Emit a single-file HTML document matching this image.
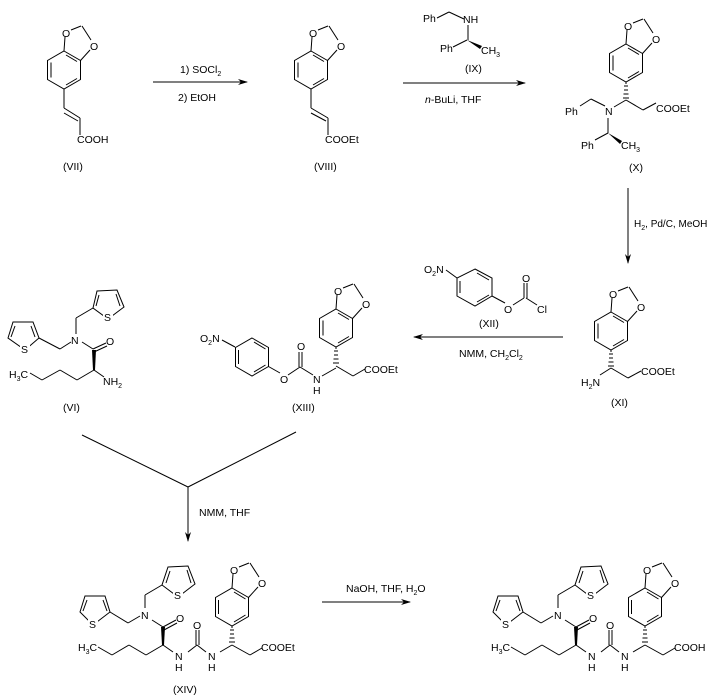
<!DOCTYPE html>
<html><head><meta charset="utf-8"><style>
html,body{margin:0;padding:0;background:#fff;}
svg{display:block;font-family:"Liberation Sans",sans-serif;font-size:10.5px;}
line,polyline,polygon.r{stroke:#000;stroke-width:1;fill:none;}
</style></head><body>
<svg width="711" height="697" viewBox="0 0 711 697" xmlns="http://www.w3.org/2000/svg">
<defs>
<marker id="ah" markerWidth="10" markerHeight="6" refX="9" refY="3" orient="auto" markerUnits="userSpaceOnUse"><path d="M0,0 L10,3 L0,6 L3,3 z" fill="#000"/></marker>
</defs>

<g transform="translate(64,70)">
<polygon class="r" points="0,-19 16.5,-9.5 16.5,9.5 0,19 -16.5,9.5 -16.5,-9.5"/>
<line x1="-13" y1="-7.5" x2="-13" y2="7.5"/><line x1="2" y1="15" x2="13" y2="8.5"/><line x1="2" y1="-15" x2="13" y2="-8.5"/>
<line x1="0" y1="-19" x2="1" y2="-33"/><line x1="16.5" y1="-9.5" x2="26" y2="-20"/>
<line x1="7" y1="-40" x2="17" y2="-44"/><line x1="18" y1="-44" x2="27" y2="-30"/>
<text x="-2" y="-33">O</text><text x="26" y="-20">O</text>
</g>
<g transform="translate(311,70)">
<polygon class="r" points="0,-19 16.5,-9.5 16.5,9.5 0,19 -16.5,9.5 -16.5,-9.5"/>
<line x1="-13" y1="-7.5" x2="-13" y2="7.5"/><line x1="2" y1="15" x2="13" y2="8.5"/><line x1="2" y1="-15" x2="13" y2="-8.5"/>
<line x1="0" y1="-19" x2="1" y2="-33"/><line x1="16.5" y1="-9.5" x2="26" y2="-20"/>
<line x1="7" y1="-40" x2="17" y2="-44"/><line x1="18" y1="-44" x2="27" y2="-30"/>
<text x="-2" y="-33">O</text><text x="26" y="-20">O</text>
</g>
<g transform="translate(626,63)">
<polygon class="r" points="0,-19 16.5,-9.5 16.5,9.5 0,19 -16.5,9.5 -16.5,-9.5"/>
<line x1="-13" y1="-7.5" x2="-13" y2="7.5"/><line x1="2" y1="15" x2="13" y2="8.5"/><line x1="2" y1="-15" x2="13" y2="-8.5"/>
<line x1="0" y1="-19" x2="1" y2="-33"/><line x1="16.5" y1="-9.5" x2="26" y2="-20"/>
<line x1="7" y1="-40" x2="17" y2="-44"/><line x1="18" y1="-44" x2="27" y2="-30"/>
<text x="-2" y="-33">O</text><text x="26" y="-20">O</text>
</g>
<g transform="translate(611,331)">
<polygon class="r" points="0,-19 16.5,-9.5 16.5,9.5 0,19 -16.5,9.5 -16.5,-9.5"/>
<line x1="-13" y1="-7.5" x2="-13" y2="7.5"/><line x1="2" y1="15" x2="13" y2="8.5"/><line x1="2" y1="-15" x2="13" y2="-8.5"/>
<line x1="0" y1="-19" x2="1" y2="-33"/><line x1="16.5" y1="-9.5" x2="26" y2="-20"/>
<line x1="7" y1="-40" x2="17" y2="-44"/><line x1="18" y1="-44" x2="27" y2="-30"/>
<text x="-2" y="-33">O</text><text x="26" y="-20">O</text>
</g>
<g transform="translate(336,328)">
<polygon class="r" points="0,-19 16.5,-9.5 16.5,9.5 0,19 -16.5,9.5 -16.5,-9.5"/>
<line x1="-13" y1="-7.5" x2="-13" y2="7.5"/><line x1="2" y1="15" x2="13" y2="8.5"/><line x1="2" y1="-15" x2="13" y2="-8.5"/>
<line x1="0" y1="-19" x2="1" y2="-33"/><line x1="16.5" y1="-9.5" x2="26" y2="-20"/>
<line x1="7" y1="-40" x2="17" y2="-44"/><line x1="18" y1="-44" x2="27" y2="-30"/>
<text x="-2" y="-33">O</text><text x="26" y="-20">O</text>
</g>

<line x1="64" y1="89" x2="64" y2="108"/><line x1="64" y1="108" x2="80" y2="118"/><line x1="64" y1="113" x2="78" y2="121"/>
<line x1="80" y1="118" x2="80" y2="135"/>
<text x="77" y="143">COOH</text>
<text x="63" y="170">(VII)</text>
<line x1="153" y1="82" x2="247" y2="82" marker-end="url(#ah)"/>
<text x="180" y="73">1) SOCl<tspan font-size="7" dy="3">2</tspan></text>
<text x="178" y="101">2) EtOH</text>
<line x1="311" y1="89" x2="311" y2="108"/><line x1="311" y1="108" x2="328" y2="118"/><line x1="311" y1="113" x2="326" y2="121"/>
<line x1="328" y1="118" x2="328" y2="135"/>
<text x="325" y="143">COOEt</text>
<text x="314" y="170">(VIII)</text>
<text x="423" y="22">Ph</text><line x1="437" y1="18" x2="449" y2="12"/><line x1="449" y1="12" x2="464" y2="19"/>
<text x="463" y="23">NH</text><line x1="468" y1="25" x2="468" y2="40"/>
<text x="440" y="52">Ph</text><line x1="453" y1="47" x2="467" y2="40"/>
<polygon points="467,40 482,46 480,49" fill="#000"/>
<text x="481" y="54">CH<tspan font-size="7" dy="3">3</tspan></text>
<text x="465" y="72">(IX)</text>
<line x1="403" y1="83" x2="525" y2="83" marker-end="url(#ah)"/>
<text x="425" y="103"><tspan font-style="italic">n</tspan>-BuLi, THF</text>
<line x1="626" y1="82" x2="626" y2="84"/>
<g stroke="#000"><line x1="624" y1="86" x2="628" y2="86"/><line x1="624" y1="90" x2="628" y2="90"/><line x1="623.5" y1="94" x2="628.5" y2="94"/><line x1="623" y1="98" x2="629" y2="98"/></g>
<line x1="626" y1="100" x2="643" y2="110"/><line x1="643" y1="110" x2="656" y2="103"/>
<text x="656" y="112">COOEt</text>
<line x1="626" y1="100" x2="614" y2="107"/>
<text x="605" y="115">N</text>
<line x1="605" y1="106" x2="591" y2="99"/><line x1="591" y1="99" x2="580" y2="106"/>
<text x="565" y="115">Ph</text>
<line x1="608" y1="118" x2="608" y2="133"/>
<line x1="608" y1="133" x2="595" y2="140"/><text x="581" y="149">Ph</text>
<polygon points="608,133 622,141 620,144" fill="#000"/>
<text x="621" y="149">CH<tspan font-size="7" dy="3">3</tspan></text>
<text x="629" y="171">(X)</text>
<line x1="628" y1="188" x2="628" y2="263" marker-end="url(#ah)"/>
<text x="634" y="227" font-size="10">H<tspan font-size="7" dy="3">2</tspan><tspan dy="-3">, Pd/C, MeOH</tspan></text>
<line x1="611" y1="350" x2="611" y2="352"/>
<g stroke="#000"><line x1="609" y1="354" x2="613" y2="354"/><line x1="609" y1="358" x2="613" y2="358"/><line x1="608.5" y1="362" x2="613.5" y2="362"/><line x1="608" y1="366" x2="614" y2="366"/></g>
<line x1="611" y1="368" x2="628" y2="378"/><line x1="628" y1="378" x2="641" y2="371"/>
<text x="641" y="375">COOEt</text>
<line x1="611" y1="368" x2="600" y2="375"/>
<text x="581" y="386">H<tspan font-size="7" dy="3">2</tspan><tspan dy="-3">N</tspan></text>
<text x="611" y="406">(XI)</text>
<text x="424" y="273">O<tspan font-size="7" dy="3">2</tspan><tspan dy="-3">N</tspan></text>
<line x1="446" y1="270" x2="457" y2="278"/>
<polygon class="r" points="475,269 492,278 492,296 475,306 457,296 457,278"/>
<line x1="460" y1="281" x2="460" y2="293"/><line x1="477" y1="273" x2="489" y2="280"/><line x1="477" y1="302" x2="489" y2="295"/>
<line x1="492" y1="296" x2="505" y2="303"/><text x="504" y="313">O</text>
<line x1="513" y1="305" x2="524" y2="298"/><line x1="524" y1="298" x2="524" y2="283"/><line x1="527" y1="298" x2="527" y2="283"/>
<text x="522" y="282">O</text><line x1="526" y1="298" x2="537" y2="305"/><text x="537" y="313">Cl</text>
<text x="479" y="327">(XII)</text>
<line x1="563" y1="337" x2="414" y2="337" marker-end="url(#ah)"/>
<text x="459" y="357">NMM, CH<tspan font-size="7" dy="3">2</tspan><tspan dy="-3">Cl</tspan><tspan font-size="7" dy="3">2</tspan></text>
<text x="200" y="342">O<tspan font-size="7" dy="3">2</tspan><tspan dy="-3">N</tspan></text>
<line x1="222" y1="340" x2="235" y2="347"/>
<polygon class="r" points="252,338 268.5,347.5 268.5,366.5 252,376 235.5,366.5 235.5,347.5"/>
<line x1="238.5" y1="350" x2="238.5" y2="364"/><line x1="254" y1="342" x2="265.5" y2="349"/><line x1="254" y1="372" x2="265.5" y2="365"/>
<line x1="268.5" y1="366.5" x2="280" y2="373"/><text x="280" y="383">O</text>
<line x1="288" y1="375" x2="300" y2="367"/><line x1="299" y1="367" x2="299" y2="352"/><line x1="302" y1="367" x2="302" y2="352"/>
<text x="297" y="350">O</text><line x1="300" y1="367" x2="313" y2="375"/>
<text x="313" y="383">N</text><text x="313" y="394">H</text>
<line x1="322" y1="376" x2="336" y2="368"/>
<line x1="336" y1="347" x2="336" y2="349"/>
<g stroke="#000"><line x1="334" y1="351" x2="338" y2="351"/><line x1="334" y1="355" x2="338" y2="355"/><line x1="333.5" y1="359" x2="338.5" y2="359"/><line x1="333" y1="363" x2="339" y2="363"/></g>
<line x1="336" y1="366" x2="353" y2="376"/><line x1="353" y1="376" x2="365" y2="369"/>
<text x="364" y="373">COOEt</text>
<text x="292" y="411">(XIII)</text>
<polygon class="r" points="13,322 33,322 39,338 25,350 8,338"/>
<line x1="15" y1="326" x2="11" y2="337"/><line x1="31" y1="326" x2="35" y2="337"/>
<rect x="20" y="343" width="10" height="11" fill="#fff"/><text x="21" y="353">S</text>
<line x1="39" y1="338" x2="60" y2="349"/><line x1="60" y1="349" x2="71" y2="342"/>
<text x="71" y="344">N</text>
<line x1="76" y1="334" x2="76" y2="318"/><line x1="76" y1="318" x2="93" y2="308"/>
<polygon class="r" points="97,291 117,290 124,307 108,319 93,308"/>
<line x1="99" y1="295" x2="96" y2="306"/><line x1="116" y1="294" x2="120" y2="306"/>
<rect x="103" y="311" width="10" height="11" fill="#fff"/><text x="104" y="321">S</text>
<line x1="82" y1="342" x2="93" y2="349"/>
<line x1="93" y1="349" x2="106" y2="343"/><line x1="94" y1="352" x2="107" y2="346"/>
<text x="106" y="345">O</text>
<polygon points="92,350 96,350 95,370 93,370" fill="#000"/>
<line x1="94" y1="370" x2="104" y2="377"/>
<text x="103" y="385">NH<tspan font-size="7" dy="3">2</tspan></text>
<line x1="94" y1="370" x2="77" y2="380"/><line x1="77" y1="380" x2="60" y2="370"/><line x1="60" y1="370" x2="42" y2="380"/><line x1="42" y1="380" x2="30" y2="373"/>
<text x="9" y="378">H<tspan font-size="7" dy="3">3</tspan><tspan dy="-3">C</tspan></text>
<text x="63" y="411">(VI)</text>
<line x1="82" y1="435" x2="188" y2="487"/><line x1="296" y1="432" x2="188" y2="487"/>
<line x1="188" y1="487" x2="188" y2="541" marker-end="url(#ah)"/>
<text x="199" y="516">NMM, THF</text>
<g>
<polygon class="r" points="232,588 248.5,597.5 248.5,616.5 232,626 215.5,616.5 215.5,597.5"/>
<line x1="218.5" y1="600" x2="218.5" y2="614"/><line x1="234" y1="622" x2="245.5" y2="615"/><line x1="234" y1="592" x2="245.5" y2="599"/>
<line x1="232" y1="588" x2="233" y2="574"/><line x1="248.5" y1="597.5" x2="258" y2="587"/>
<line x1="239" y1="567" x2="249" y2="563"/><line x1="250" y1="563" x2="259" y2="577"/>
<text x="230" y="574">O</text><text x="258" y="587">O</text>
<line x1="232" y1="626" x2="232" y2="628"/>
<g stroke="#000"><line x1="230" y1="630" x2="234" y2="630"/><line x1="230" y1="634" x2="234" y2="634"/><line x1="229.5" y1="638" x2="234.5" y2="638"/><line x1="229" y1="642" x2="235" y2="642"/></g>
<line x1="232" y1="645" x2="250" y2="655"/><line x1="250" y1="655" x2="262" y2="648"/>
<line x1="232" y1="645" x2="220" y2="652"/>
<text x="208" y="660">N</text><text x="208" y="671">H</text>
<line x1="206" y1="652" x2="197" y2="645"/>
<line x1="196" y1="645" x2="196" y2="630"/><line x1="199" y1="645" x2="199" y2="630"/>
<text x="193" y="629">O</text>
<line x1="197" y1="645" x2="188" y2="652"/>
<text x="175" y="660">N</text><text x="175" y="671">H</text>
<line x1="173" y1="652" x2="163" y2="645"/>
<polygon points="161,627 165,627 164,645 162,645" fill="#000"/>
<line x1="163" y1="627" x2="176" y2="620"/><line x1="164" y1="630" x2="177" y2="623"/>
<text x="176" y="622">O</text>
<line x1="163" y1="627" x2="152" y2="620"/>
<text x="141" y="619">N</text>
<line x1="145" y1="608" x2="145" y2="595"/><line x1="145" y1="595" x2="162" y2="585"/>
<polygon class="r" points="168,567 188,566 195,584 178,597 162,585"/>
<line x1="170" y1="571" x2="166" y2="583"/><line x1="187" y1="570" x2="191" y2="583"/>
<rect x="173" y="589" width="10" height="11" fill="#fff"/><text x="174" y="599">S</text>
<line x1="140" y1="616" x2="128" y2="623"/><line x1="128" y1="623" x2="110" y2="612"/>
<polygon class="r" points="85,596 105,596 110,612 93,625 80,612"/>
<line x1="87" y1="600" x2="83" y2="611"/><line x1="103" y1="600" x2="107" y2="611"/>
<rect x="88" y="618" width="10" height="11" fill="#fff"/><text x="89" y="628">S</text>
<line x1="163" y1="645" x2="146" y2="655"/><line x1="146" y1="655" x2="129" y2="645"/><line x1="129" y1="645" x2="112" y2="655"/><line x1="112" y1="655" x2="98" y2="647"/>
<text x="78" y="651">H<tspan font-size="7" dy="3">3</tspan><tspan dy="-3">C</tspan></text>
</g>
<text x="261" y="651">COOEt</text>
<text x="173" y="693">(XIV)</text>
<line x1="322" y1="602" x2="410" y2="602" marker-end="url(#ah)"/>
<text x="346" y="592">NaOH, THF, H<tspan font-size="7" dy="3">2</tspan><tspan dy="-3">O</tspan></text>
<g transform="translate(413,0)">
<polygon class="r" points="232,588 248.5,597.5 248.5,616.5 232,626 215.5,616.5 215.5,597.5"/>
<line x1="218.5" y1="600" x2="218.5" y2="614"/><line x1="234" y1="622" x2="245.5" y2="615"/><line x1="234" y1="592" x2="245.5" y2="599"/>
<line x1="232" y1="588" x2="233" y2="574"/><line x1="248.5" y1="597.5" x2="258" y2="587"/>
<line x1="239" y1="567" x2="249" y2="563"/><line x1="250" y1="563" x2="259" y2="577"/>
<text x="230" y="574">O</text><text x="258" y="587">O</text>
<line x1="232" y1="626" x2="232" y2="628"/>
<g stroke="#000"><line x1="230" y1="630" x2="234" y2="630"/><line x1="230" y1="634" x2="234" y2="634"/><line x1="229.5" y1="638" x2="234.5" y2="638"/><line x1="229" y1="642" x2="235" y2="642"/></g>
<line x1="232" y1="645" x2="250" y2="655"/><line x1="250" y1="655" x2="262" y2="648"/>
<line x1="232" y1="645" x2="220" y2="652"/>
<text x="208" y="660">N</text><text x="208" y="671">H</text>
<line x1="206" y1="652" x2="197" y2="645"/>
<line x1="196" y1="645" x2="196" y2="630"/><line x1="199" y1="645" x2="199" y2="630"/>
<text x="193" y="629">O</text>
<line x1="197" y1="645" x2="188" y2="652"/>
<text x="175" y="660">N</text><text x="175" y="671">H</text>
<line x1="173" y1="652" x2="163" y2="645"/>
<polygon points="161,627 165,627 164,645 162,645" fill="#000"/>
<line x1="163" y1="627" x2="176" y2="620"/><line x1="164" y1="630" x2="177" y2="623"/>
<text x="176" y="622">O</text>
<line x1="163" y1="627" x2="152" y2="620"/>
<text x="141" y="619">N</text>
<line x1="145" y1="608" x2="145" y2="595"/><line x1="145" y1="595" x2="162" y2="585"/>
<polygon class="r" points="168,567 188,566 195,584 178,597 162,585"/>
<line x1="170" y1="571" x2="166" y2="583"/><line x1="187" y1="570" x2="191" y2="583"/>
<rect x="173" y="589" width="10" height="11" fill="#fff"/><text x="174" y="599">S</text>
<line x1="140" y1="616" x2="128" y2="623"/><line x1="128" y1="623" x2="110" y2="612"/>
<polygon class="r" points="85,596 105,596 110,612 93,625 80,612"/>
<line x1="87" y1="600" x2="83" y2="611"/><line x1="103" y1="600" x2="107" y2="611"/>
<rect x="88" y="618" width="10" height="11" fill="#fff"/><text x="89" y="628">S</text>
<line x1="163" y1="645" x2="146" y2="655"/><line x1="146" y1="655" x2="129" y2="645"/><line x1="129" y1="645" x2="112" y2="655"/><line x1="112" y1="655" x2="98" y2="647"/>
<text x="78" y="651">H<tspan font-size="7" dy="3">3</tspan><tspan dy="-3">C</tspan></text>
<text x="261" y="651">COOH</text>
</g>
</svg>
</body></html>
